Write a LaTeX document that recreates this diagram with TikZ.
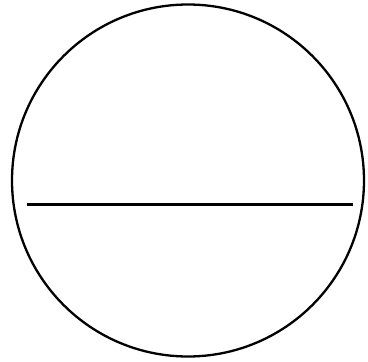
\documentclass[tikz,border=0pt]{standalone}
\usepackage{tikz}
\usetikzlibrary{positioning}

\begin{document}
\begin{tikzpicture}[x=1pt, y=-1pt, line width=2.3pt]
        \useasboundingbox (0,0) rectangle (368,362);
        % Circle
        \coordinate (centre) at (188,180.5);
        \draw (centre) circle (176);
        % Chord
        \coordinate (chordL) at (27,204.5);
        \coordinate (chordR) at (353,204.5);
        \draw (chordL) -- (chordR);
    \end{tikzpicture}
\end{document}
